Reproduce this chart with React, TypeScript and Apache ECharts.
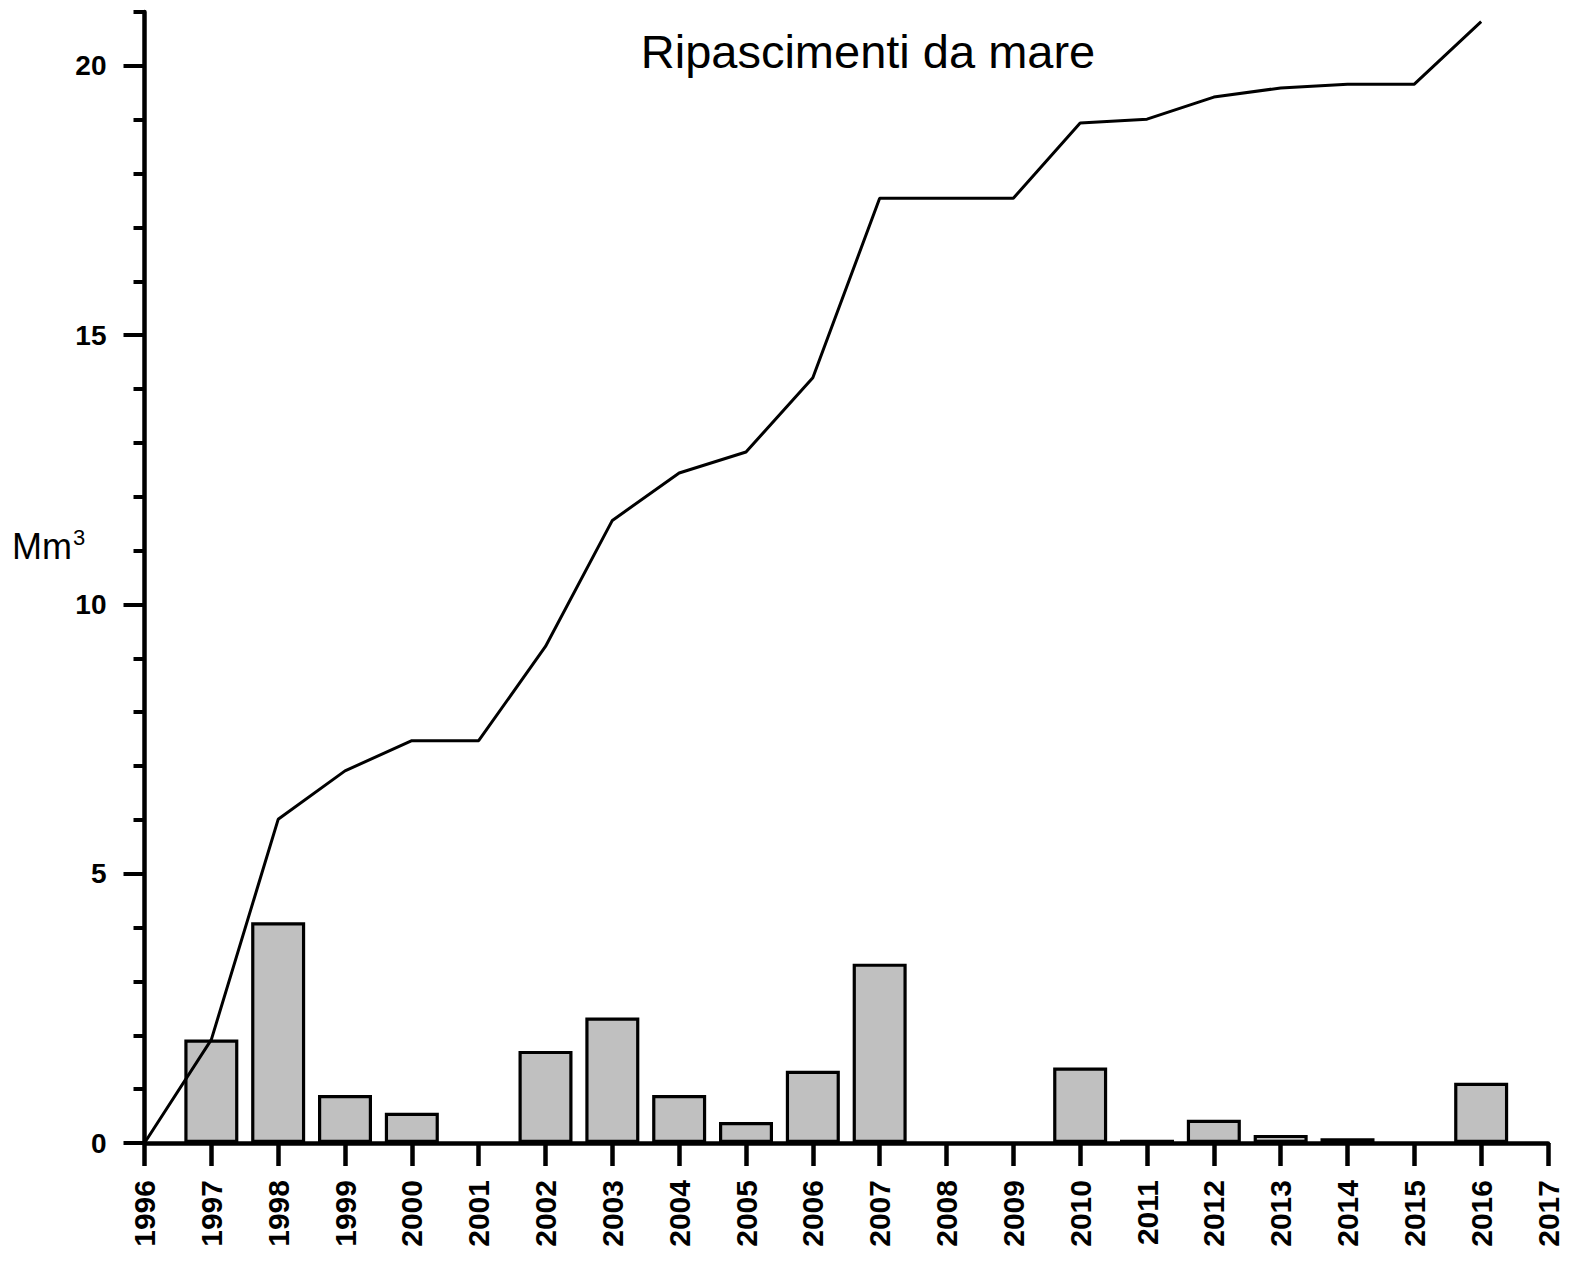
import React, { useEffect, useRef } from "react";
import * as echarts from "echarts";

const years = [1996, 1997, 1998, 1999, 2000, 2001, 2002, 2003, 2004, 2005, 2006, 2007, 2008, 2009, 2010, 2011, 2012, 2013, 2014, 2015, 2016];
const annualVolumes = [0, 1.92, 4.1, 0.89, 0.56, 0, 1.71, 2.33, 0.89, 0.39, 1.34, 3.33, 0, 0, 1.4, 0.06, 0.43, 0.15, 0.09, 0, 1.12];
const cumulativeVolumes = [0, 1.92, 6.01, 6.91, 7.47, 7.47, 9.22, 11.56, 12.44, 12.83, 14.21, 17.54, 17.54, 17.54, 18.94, 19.01, 19.42, 19.59, 19.66, 19.66, 20.82];
const xMin = 1996;
const xMax = 2017;
const yMax = 21;
const yMajorTicks = [0, 5, 10, 15, 20];
const titleText = "Ripascimenti da mare";
const unitText = "Mm";
const unitSup = "3";

const FONT = "'Liberation Sans', Arial, Helvetica, sans-serif";

export default function App() {
  const ref = useRef<HTMLDivElement>(null);
  useEffect(() => {
    if (!ref.current) return;
    const chart = echarts.init(ref.current, null, { renderer: "svg" });
    const barData = years.map((y, i) => (annualVolumes[i] > 0 ? [y, annualVolumes[i]] : [y, "-"]));
    const lineData = years.map((y, i) => [y, cumulativeVolumes[i]]);
    chart.setOption({
      animation: false,
      backgroundColor: "#ffffff",
      grid: { left: 144.5, right: 28, top: 12, bottom: 119, containLabel: false },
      xAxis: {
        type: "value",
        min: xMin,
        max: xMax,
        interval: 1,
        splitLine: { show: false },
        axisLine: { show: true, lineStyle: { color: "#000", width: 4.5 } },
        axisTick: { show: true, length: 23, lineStyle: { color: "#000", width: 4.5 } },
        axisLabel: {
          rotate: 90,
          margin: 37,
          fontSize: 30,
          fontWeight: "bold",
          fontFamily: FONT,
          color: "#000",
          formatter: (v: number) => String(v),
        },
      },
      yAxis: [
        {
          type: "value",
          min: 0,
          max: yMax,
          interval: 1,
          splitLine: { show: false },
          axisLine: { show: true, lineStyle: { color: "#000", width: 4.5 } },
          axisTick: { show: true, length: 11, lineStyle: { color: "#000", width: 4 } },
          axisLabel: {
            margin: 38,
            fontSize: 28,
            fontWeight: "bold",
            fontFamily: FONT,
            color: "#000",
            formatter: (v: number) => (yMajorTicks.indexOf(v) >= 0 ? String(v) : ""),
          },
        },
        {
          type: "value",
          min: 0,
          max: yMax,
          position: "left",
          splitLine: { show: false },
          axisLine: { show: false },
          axisTick: { show: true, length: 21, customValues: yMajorTicks, lineStyle: { color: "#000", width: 4 } },
          axisLabel: { show: false },
        },
      ],
      graphic: [
        {
          type: "text",
          x: 868,
          y: 51,
          style: {
            text: titleText,
            fontSize: 47,
            fontFamily: FONT,
            fill: "#000",
            textAlign: "center",
            textVerticalAlign: "middle",
          },
        },
        {
          type: "text",
          x: 12,
          y: 566,
          style: {
            text: "{a|" + unitText + "}{b|" + unitSup + "}",
            textVerticalAlign: "bottom",
            rich: {
              a: { fontSize: 36, fontFamily: FONT, fill: "#000", color: "#000" },
              b: { fontSize: 22, fontFamily: FONT, fill: "#000", color: "#000", verticalAlign: "top", padding: [0, 0, 18, 1] },
            },
          },
        },
      ],
      series: [
        {
          type: "bar",
          data: barData,
          barWidth: 54,
          itemStyle: { color: "#c0c0c0", borderColor: "#000", borderWidth: 3.2 },
        },
        {
          type: "line",
          data: lineData,
          showSymbol: false,
          symbol: "none",
          lineStyle: { color: "#000", width: 3 },
          z: 5,
        },
      ],
    });
    return () => chart.dispose();
  }, []);
  return (
    <div
      ref={ref}
      style={{ position: "absolute", left: 0, top: 0, width: 1576, height: 1262, background: "#fff" }}
    />
  );
}
